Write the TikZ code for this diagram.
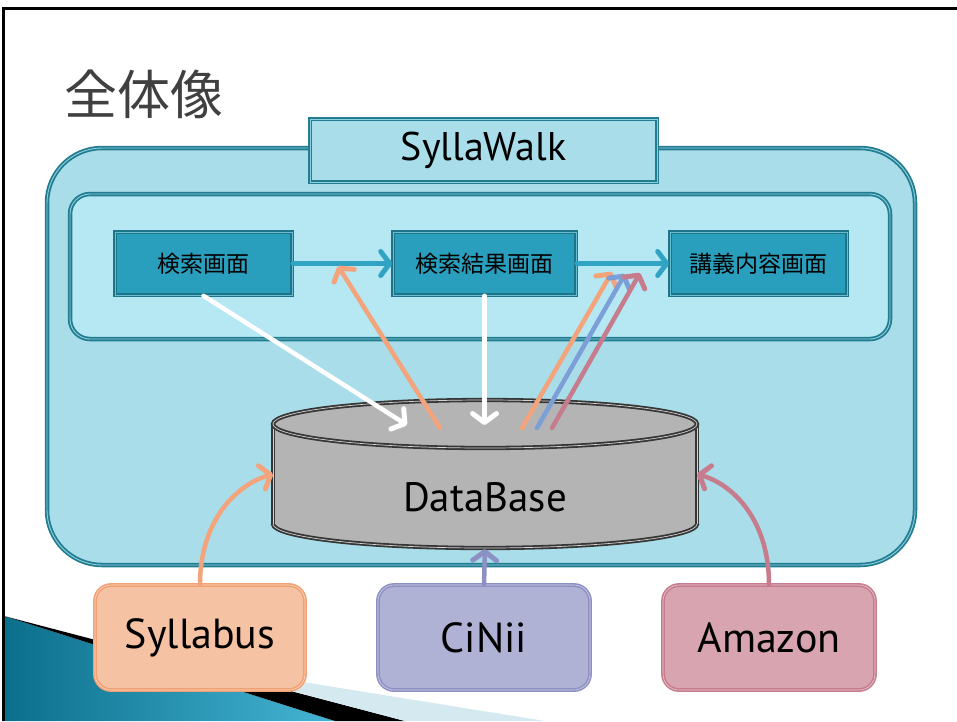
\documentclass[tikz,border=0pt]{standalone}
\usepackage{fontspec}
\setmainfont{PT Sans}
\newfontfamily\jp{Noto Sans CJK JP}
\usetikzlibrary{arrows.meta}
\definecolor{outerfill}{HTML}{A8DDE9}
\definecolor{innerfill}{HTML}{B5E8F3}
\definecolor{tealline}{HTML}{237D91}
\definecolor{tealedge}{HTML}{8CCFDF}
\definecolor{screenfill}{HTML}{2A9FBD}
\definecolor{screenline}{HTML}{1E7489}
\definecolor{flowteal}{HTML}{30A4C2}
\definecolor{orng}{HTML}{F4A47C}
\definecolor{blu}{HTML}{7B9FD6}
\definecolor{pnk}{HTML}{C67C8C}
\definecolor{sylfill}{HTML}{F6C2A4}
\definecolor{sylline}{HTML}{F1A072}
\definecolor{cinfill}{HTML}{AFB2D4}
\definecolor{cinline}{HTML}{8D90C2}
\definecolor{amzfill}{HTML}{D7A4AF}
\definecolor{amzline}{HTML}{C67C8C}
\definecolor{dbgray}{HTML}{B4B4B4}
\definecolor{dbline}{HTML}{363636}
\definecolor{titlecol}{HTML}{404040}
\definecolor{decoteal}{HTML}{0B6F8C}
\definecolor{decolight}{HTML}{45B4D4}
\definecolor{decoband}{HTML}{D5EAF0}
\tikzset{
  framebox/.style={draw=tealline, line width=1.8pt, double=tealedge, double distance=0.9pt},
  screen/.style={draw=screenline, fill=screenfill, line width=1.6pt, double=#1, double distance=0.6pt,
    minimum width=177pt, minimum height=63pt, inner sep=0pt, font=\jp\fontsize{23}{27}\selectfont},
  screen/.default=screenfill!70!white,
  source/.style={draw=#1, line width=1.6pt, double=#1!40!white, double distance=0.6pt, rounded corners=16pt,
    minimum width=210pt, minimum height=105pt, inner sep=0pt, font=\fontsize{42}{48}\selectfont},
  dbedge/.style={draw=dbline, line width=1.8pt, double=dbgray!60!white, double distance=0.7pt},
  flow/.style={draw=#1, line width=4.5pt, line cap=round,
    -{Straight Barb[length=9pt, width=24pt, line width=5pt, round]}},
}
\begin{document}
\begin{tikzpicture}[x=1pt,y=-1pt]
\useasboundingbox (0,0) rectangle (957,721);
\fill[white] (0,0) rectangle (957,721);
% slide decoration bottom-left
\shade[left color=decoteal, right color=decolight] (4,616) -- (335,721) -- (4,721) -- cycle;
\fill[black] (4,616) -- (405,721) -- (335,721) -- cycle;
\fill[decoband] (191,664) -- (545,721) -- (405,721) -- cycle;
% slide frame
\draw[line width=3.5pt] (2,8.5) -- (957,8.5);
\draw[line width=3.5pt] (3.5,8.5) -- (3.5,721);
% title
\node[text=titlecol, font=\jp\fontsize{53}{58}\selectfont] (title) at (144,94) {全体像};
% outer system box
\draw[framebox, fill=outerfill, rounded corners=55pt] (47,148) rectangle (915,565);
\node[framebox, fill=outerfill, minimum width=347pt, minimum height=63pt, inner sep=0pt,
  font=\fontsize{40}{46}\selectfont] (sw) at (483.5,150.5) {SyllaWalk};
% inner screen area
\draw[framebox, fill=innerfill, rounded corners=20pt] (70,194) rectangle (890,339);
% screens
\node[screen] (s1) at (203.5,263.5) {検索画面};
\node[screen, minimum width=183pt] (s2) at (484.5,263.5) {検索結果画面};
\node[screen] (s3) at (758.5,263.5) {講義内容画面};
% database cylinder
\fill[dbgray] (273,424) rectangle (697,524);
\fill[dbgray] (485,524) ellipse [x radius=212, y radius=24];
\begin{scope}
  \clip (260,524) rectangle (710,560);
  \draw[dbedge] (485,524) ellipse [x radius=212, y radius=24];
\end{scope}
\draw[dbedge] (273,424) -- (273,524);
\draw[dbedge] (697,424) -- (697,524);
\draw[dbedge, fill=dbgray] (485,424) ellipse [x radius=212, y radius=24];
\node[minimum width=424pt, minimum height=150pt, inner sep=0pt, outer sep=0pt] (db) at (485,474) {};
\node[font=\fontsize{41}{48}\selectfont] (dbtext) at (485,497) {DataBase};
% sources
\node[source=sylline, fill=sylfill] (syl) at (200,637.5) {Syllabus};
\node[source=cinline, fill=cinfill, minimum width=212pt] (cin) at (484,637.5) {CiNii};
\node[source=amzline, fill=amzfill, minimum width=212pt] (amz) at (769,637.5) {Amazon};
% connector end points
\coordinate (w1) at (407,425);
\coordinate (w2) at (484.5,425);
\coordinate (o1s) at (440,428);
\coordinate (o1t) at (338,266);
\coordinate (o2s) at (522,428);
\coordinate (o2t) at (612,272);
\coordinate (b2s) at (537,428);
\coordinate (b2t) at (625,274);
\coordinate (p2s) at (552,428);
\coordinate (p2t) at (640,273);
% screen flow
\draw[flow=flowteal] (s1.east) -- (s2.west);
\draw[flow=flowteal] (s2.east) -- (s3.west);
% queries to database
\draw[flow=white] (s1.south) -- (w1);
\draw[flow=white] (s2.south) -- (w2);
% results from database
\draw[flow=orng] (o1s) -- (o1t);
\draw[flow=orng] (o2s) -- (o2t);
\draw[flow=blu] (b2s) -- (b2t);
\draw[flow=pnk] (p2s) -- (p2t);
% sources into database
\draw[flow=orng] (syl.north) .. controls +(0,-60) and +(-40,12) .. (db.west);
\draw[flow=cinline] (cin.north) -- (db.south);
\draw[flow=amzline] (amz.north) .. controls +(0,-60) and +(40,12) .. (db.east);
\end{tikzpicture}
\end{document}
